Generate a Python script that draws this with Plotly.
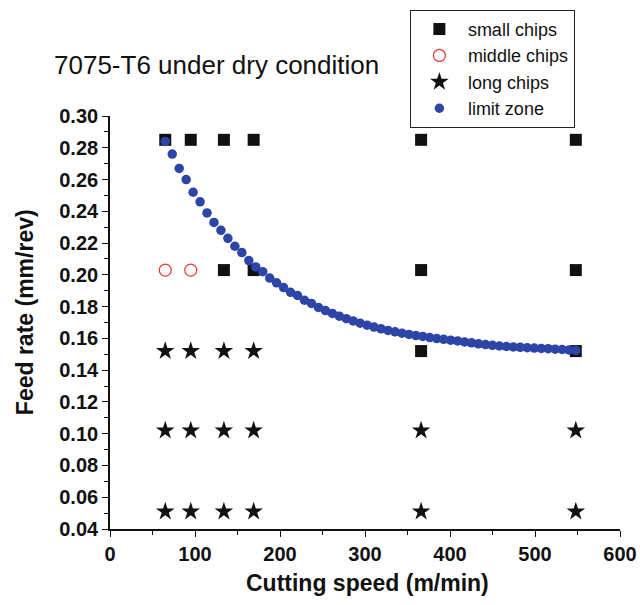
import plotly.graph_objects as go

# ---- data ----
small_x = [65, 95, 134, 169, 366, 548, 134, 169, 366, 548, 366, 548]
small_y = [0.285, 0.285, 0.285, 0.285, 0.285, 0.285, 0.203, 0.203, 0.203, 0.203, 0.152, 0.152]

middle_x = [65, 95]
middle_y = [0.203, 0.203]

long_x = [65, 95, 134, 169, 65, 95, 134, 169, 366, 548, 65, 95, 134, 169, 366, 548]
long_y = [0.152, 0.152, 0.152, 0.152, 0.102, 0.102, 0.102, 0.102, 0.102, 0.102,
          0.051, 0.051, 0.051, 0.051, 0.051, 0.051]

limit_x = [65, 73.2, 81.4, 89.6, 97.8, 106, 114.1, 122.3, 130.5, 138.7,
           146.9, 155.1, 163.3, 171.5, 179.7, 187.9, 196, 204.2, 212.4, 220.6,
           228.8, 237, 245.2, 253.4, 261.6, 269.8, 278, 286.1, 294.3, 302.5,
           310.7, 318.9, 327.1, 335.3, 343.5, 351.7, 359.9, 368, 376.2, 384.4,
           392.6, 400.8, 409, 417.2, 425.4, 433.6, 441.8, 449.9, 458.1, 466.3,
           474.5, 482.7, 490.9, 499.1, 507.3, 515.5, 523.7, 531.9, 540, 548]
limit_y = [0.284, 0.276, 0.267, 0.260, 0.252, 0.246, 0.239, 0.233, 0.228, 0.223,
           0.218, 0.214, 0.209, 0.205, 0.202, 0.198, 0.195, 0.192, 0.189, 0.187,
           0.184, 0.182, 0.1795, 0.1775, 0.1757, 0.174, 0.1724, 0.171, 0.1696, 0.1683,
           0.1671, 0.166, 0.165, 0.1641, 0.1633, 0.1625, 0.1618, 0.1612, 0.1605, 0.1599,
           0.1594, 0.1589, 0.1584, 0.1578, 0.1572, 0.1566, 0.1561, 0.1556, 0.1552, 0.1549,
           0.1546, 0.1544, 0.1541, 0.1539, 0.1537, 0.1535, 0.1532, 0.1530, 0.1527, 0.1524]

title_text = "7075-T6 under dry condition"
x_title = "Cutting speed (m/min)"
y_title = "Feed rate (mm/rev)"

FONT = "Arial, Liberation Sans, sans-serif"

fig = go.Figure()
fig.add_trace(go.Scatter(x=small_x, y=small_y, mode="markers", name="small chips",
                         marker=dict(symbol="square", size=12, color="#111111",
                                     line=dict(width=0))))
fig.add_trace(go.Scatter(x=middle_x, y=middle_y, mode="markers", name="middle chips",
                         marker=dict(symbol="circle-open", size=12, color="#e5392c",
                                     line=dict(width=1.2, color="#e5392c"))))
fig.add_trace(go.Scatter(x=long_x, y=long_y, mode="markers", name="long chips",
                         marker=dict(symbol="star", size=14, color="#111111",
                                     line=dict(width=0))))
fig.add_trace(go.Scatter(x=limit_x, y=limit_y, mode="markers", name="limit zone",
                         marker=dict(symbol="circle", size=9.5, color="#2e45a8",
                                     line=dict(width=0))))

axis_common = dict(
    showline=True, linecolor="#111111", linewidth=1.6,
    ticks="outside", ticklen=6, tickwidth=1.4, tickcolor="#111111",
    showgrid=False, zeroline=False, mirror=False,
    tickfont=dict(family=FONT, size=20, color="#111111", weight="bold"),
)

fig.update_xaxes(range=[0, 600], dtick=100, tick0=0,
                 minor=dict(ticks="outside", ticklen=4, tickwidth=1.2,
                            tickcolor="#111111", dtick=50, showgrid=False),
                 **axis_common)
fig.update_yaxes(range=[0.04, 0.30], dtick=0.02, tick0=0.04, tickformat=".2f",
                 minor=dict(ticks="outside", ticklen=4, tickwidth=1.2,
                            tickcolor="#111111", dtick=0.01, showgrid=False),
                 **axis_common)

fig.add_annotation(text=title_text, xref="paper", yref="paper", x=-0.114, y=1.1235,
                   xanchor="left", yanchor="middle", showarrow=False,
                   font=dict(family=FONT, size=26, color="#111111"))
fig.add_annotation(text="<b>" + x_title + "</b>", xref="paper", yref="paper",
                   x=0.504, y=-0.1308, xanchor="center", yanchor="middle",
                   showarrow=False, font=dict(family=FONT, size=23, color="#111111"))
fig.add_annotation(text="<b>" + y_title + "</b>", xref="paper", yref="paper",
                   x=-0.1667, y=0.525, xanchor="center", yanchor="middle", textangle=-90,
                   showarrow=False, font=dict(family=FONT, size=23, color="#111111"))

fig.update_layout(
    width=640, height=605,
    margin=dict(l=110, r=20, t=116, b=76, pad=0, autoexpand=False),
    paper_bgcolor="white", plot_bgcolor="white",
    showlegend=True,
    legend=dict(x=0.588, y=1.257, xanchor="left", yanchor="top",
                bordercolor="#222222", borderwidth=1, bgcolor="white",
                font=dict(family=FONT, size=18, color="#111111"),
                itemwidth=47, tracegroupgap=0),
)

fig.write_html("out.html")
